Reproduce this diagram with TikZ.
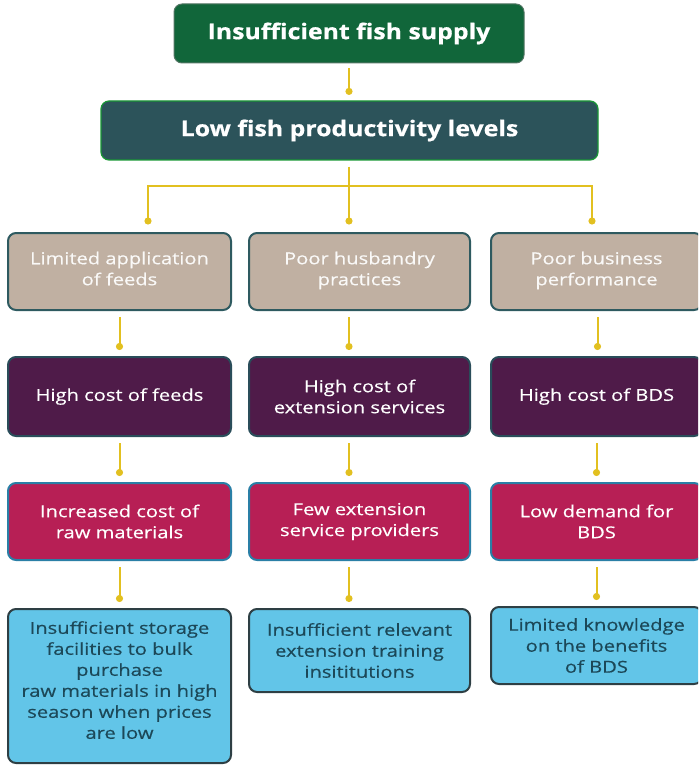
\documentclass[tikz,border=0pt]{standalone}
\usepackage{fontspec}
\setmainfont{Open Sans}[FakeStretch=1.22,FakeBold=0.4]
\newfontfamily\headfont{Open Sans}[FakeStretch=1.15,UprightFont=* Bold,FakeBold=0.6]
\usetikzlibrary{arrows.meta}
\definecolor{gold}{HTML}{E2C020}
\definecolor{topgreen}{HTML}{11663A}
\definecolor{teal}{HTML}{2C535A}
\definecolor{tan}{HTML}{C0B0A2}
\definecolor{plum}{HTML}{4F1B49}
\definecolor{crimson}{HTML}{B71F55}
\definecolor{sky}{HTML}{62C5E8}
\definecolor{tanline}{HTML}{2E5A60}
\definecolor{plumline}{HTML}{2A4D5A}
\definecolor{crimline}{HTML}{2A7FA6}
\definecolor{skyline}{HTML}{2E3F44}
\definecolor{skytext}{HTML}{1C4858}
\tikzset{
  box/.style={rounded corners=8pt, line width=2pt, align=center, inner sep=0pt,
    font=\fontsize{16.5}{21}\selectfont},
  head/.style={box, text=white, font=\headfont\fontsize{21.6}{25}\selectfont},
  tanbox/.style={box, fill=tan, draw=tanline, text=white!92!tan},
  plumbox/.style={box, fill=plum, draw=plumline, text=white},
  crimbox/.style={box, fill=crimson, draw=crimline, text=white},
  skybox/.style={box, fill=sky, draw=skyline, text=skytext},
  link/.style={draw=gold, line width=2pt},
  conn/.style={link, -{Circle[length=7pt,width=7pt]}},
}
\begin{document}
\begin{tikzpicture}[x=1pt,y=-1pt]
\useasboundingbox (0,0) rectangle (698,767);
\clip (0,0) rectangle (698,767);
% top levels
\node[head, fill=topgreen, draw=gray!60!topgreen, line width=1pt, minimum width=350pt, minimum height=59pt] (top) at (349,33.5) {Insufficient fish supply};
\node[head, fill=teal, draw=green!40!teal, line width=1.2pt, minimum width=497pt, minimum height=59pt] (low) at (349.5,130.5) {Low fish productivity levels};
% row 3
\node[tanbox, minimum width=223pt, minimum height=77pt] (a1) at (119.5,271.5) {Limited application\\of feeds\\[-15pt]\mbox{}};
\node[tanbox, minimum width=221pt, minimum height=77pt] (a2) at (359.5,271.5) {Poor husbandry\\practices\\[-15pt]\mbox{}};
\node[tanbox, minimum width=211pt, minimum height=77pt] (a3) at (596.5,271.5) {Poor business\\performance\\[-15pt]\mbox{}};
% row 4
\node[plumbox, minimum width=223pt, minimum height=79pt] (b1) at (119.5,396.5) {High cost of feeds};
\node[plumbox, minimum width=221pt, minimum height=79pt] (b2) at (359.5,396.5) {High cost of\\extension services};
\node[plumbox, minimum width=211pt, minimum height=79pt] (b3) at (596.5,396.5) {High cost of BDS};
% row 5
\node[crimbox, minimum width=223pt, minimum height=77pt] (c1) at (119.5,521.5) {Increased cost of\\raw materials};
\node[crimbox, minimum width=221pt, minimum height=77pt] (c2) at (359.5,521.5) {Few extension\\service providers};
\node[crimbox, minimum width=211pt, minimum height=77pt] (c3) at (596.5,521.5) {Low demand for\\BDS};
% row 6
\node[skybox, minimum width=223pt, minimum height=154pt] (d1) at (119.5,686) {Insufficient storage\\facilities to bulk\\purchase\\raw materials in high\\season when prices\\are low\\[-9pt]\mbox{}};
\node[skybox, minimum width=221pt, minimum height=83pt] (d2) at (359.5,650.5) {Insufficient relevant\\extension training\\insititutions};
\node[skybox, minimum width=211pt, minimum height=77pt] (d3) at (596.5,645.5) {Limited knowledge\\on the benefits\\of BDS};
% connectors
\draw[conn, shorten <=5pt, shorten >=5.5pt] (top.south) -- (top.south |- low.north);
\coordinate (j) at (349,186);
\draw[link, shorten <=6pt] (low.south -| j) -- (j);
\draw[conn, shorten >=7.5pt] (j) -| ([xshift=28.5pt]a1.north);
\draw[conn, shorten >=7.5pt] (j) -- (j |- a2.north);
\draw[conn, shorten >=7.5pt] (j) -| ([xshift=-4.5pt]a3.north);
\foreach \u/\v in {a1/b1,b1/c1,c1/d1,b3/c3,c3/d3}{
  \draw[conn, shorten <=6pt, shorten >=6pt] (\u.south) -- (\v.north);
}
\draw[conn, shorten <=6pt, shorten >=6pt] ([xshift=1pt]a3.south) -- ([xshift=1pt]b3.north);
\foreach \u/\v in {a2/b2,b2/c2,c2/d2}{
  \draw[conn, shorten <=6pt, shorten >=6pt] ([xshift=-10.5pt]\u.south) -- ([xshift=-10.5pt]\v.north);
}
\end{tikzpicture}
\end{document}
